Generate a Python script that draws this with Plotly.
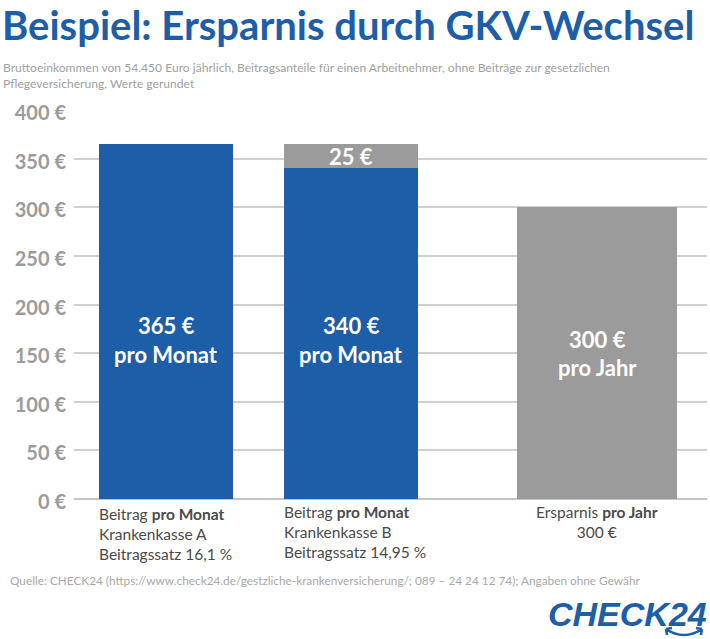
from typing import List, Dict
import plotly.graph_objects as go

BLUE = "#1c5ea8"
GREY = "#9b9b9b"
FONT = "Lato"
FIG_WIDTH = 710
FIG_HEIGHT = 639
MARGIN_LEFT = 74
MARGIN_RIGHT = 3
MARGIN_TOP = 110
MARGIN_BOTTOM = 140


def paper_x(pixel: float) -> float:
    return (pixel - MARGIN_LEFT) / (FIG_WIDTH - MARGIN_LEFT - MARGIN_RIGHT)


def paper_y(pixel: float) -> float:
    return (FIG_HEIGHT - MARGIN_BOTTOM - pixel) / (FIG_HEIGHT - MARGIN_TOP - MARGIN_BOTTOM)


def get_bars() -> List[Dict]:
    return [
        {"x": 92, "width": 134, "value": 340, "color": BLUE},
        {"x": 92, "width": 134, "value": 25, "color": BLUE},
        {"x": 277, "width": 134, "value": 340, "color": BLUE},
        {"x": 277, "width": 134, "value": 25, "color": GREY},
        {"x": 523, "width": 160, "value": 300, "color": GREY},
    ]


def get_bar_labels() -> List[Dict]:
    return [
        {"x": 92, "y": 178, "text": "<b>365 €</b>"},
        {"x": 92, "y": 149, "text": "<b>pro Monat</b>"},
        {"x": 277, "y": 178, "text": "<b>340 €</b>"},
        {"x": 277, "y": 149, "text": "<b>pro Monat</b>"},
        {"x": 277, "y": 352, "text": "<b>25 €</b>"},
        {"x": 523, "y": 164, "text": "<b>300 €</b>"},
        {"x": 523, "y": 135, "text": "<b>pro Jahr</b>"},
    ]


def get_texts() -> List[Dict]:
    return [
        {"x": 2, "y": 1, "text": "<b>Beispiel: Ersparnis durch GKV-Wechsel</b>", "size": 40,
         "color": BLUE, "align": "left", "anchor": "left"},
        {"x": 3, "y": 60, "text": "Bruttoeinkommen von 54.450 Euro jährlich, Beitragsanteile für einen Arbeitnehmer, "
         "ohne Beiträge zur gesetzlichen<br>Pflegeversicherung, Werte gerundet", "size": 12.1,
         "color": "#a0a0a0", "align": "left", "anchor": "left"},
        {"x": 99, "y": 505, "text": "Beitrag <b>pro Monat</b><br>Krankenkasse A<br>Beitragssatz 16,1 %", "size": 15.5,
         "color": "#4a4a4a", "align": "left", "anchor": "left"},
        {"x": 284, "y": 503, "text": "Beitrag <b>pro Monat</b><br>Krankenkasse B<br>Beitragssatz 14,95 %", "size": 15.5,
         "color": "#4a4a4a", "align": "left", "anchor": "left"},
        {"x": 597, "y": 503, "text": "Ersparnis <b>pro Jahr</b><br>300 €", "size": 15.5,
         "color": "#4a4a4a", "align": "center", "anchor": "center"},
        {"x": 10, "y": 573, "text": "Quelle: CHECK24 (https://www.check24.de/gestzliche-krankenversicherung/; "
         "089 – 24 24 12 74); Angaben ohne Gewähr", "size": 11.8,
         "color": "#a8a8a8", "align": "left", "anchor": "left"},
    ]


def create_savings_chart() -> go.Figure:
    traces = []
    for bar in get_bars():
        traces.append(
            go.Bar(
                x=[bar["x"]],
                y=[bar["value"]],
                width=bar["width"],
                marker=dict(color=bar["color"], line=dict(width=0)),
                showlegend=False,
            )
        )

    ticks = [0, 50, 100, 150, 200, 250, 300, 350, 400]
    fig = go.Figure(data=traces)
    fig.update_layout(
        width=FIG_WIDTH,
        height=FIG_HEIGHT,
        barmode="stack",
        margin=dict(l=MARGIN_LEFT, r=MARGIN_RIGHT, t=MARGIN_TOP, b=MARGIN_BOTTOM),
        plot_bgcolor="white",
        paper_bgcolor="white",
        xaxis=dict(range=[0, 633], visible=False, fixedrange=True),
        yaxis=dict(
            range=[0, 400],
            tickvals=ticks,
            ticktext=[f"{tick} €" for tick in ticks],
            ticklabelshift=3,
            ticklabelstandoff=7,
            tickfont=dict(family=FONT, size=20, color=GREY, weight="bold"),
            gridcolor="#d0d0d0",
            gridwidth=1.5,
            zeroline=True,
            zerolinecolor="#c4c4c4",
            zerolinewidth=1.5,
            showline=False,
            ticks="",
        ),
    )

    for label in get_bar_labels():
        fig.add_annotation(
            x=label["x"], y=label["y"], text=label["text"], showarrow=False,
            font=dict(family=FONT, size=22, color="white"),
            align="center", yanchor="middle",
        )

    for item in get_texts():
        fig.add_annotation(
            xref="paper", yref="paper", x=paper_x(item["x"]), y=paper_y(item["y"]),
            xanchor=item["anchor"], yanchor="top", text=item["text"], showarrow=False,
            align=item["align"], borderpad=0, borderwidth=0,
            font=dict(family=FONT, size=item["size"], color=item["color"]),
        )

    fig.add_annotation(
        xref="paper", yref="paper", x=paper_x(708), y=paper_y(594),
        xanchor="right", yanchor="top", text="<b><i>CHECK24</i></b>", showarrow=False,
        borderpad=0, font=dict(family="Liberation Sans", size=34, color=BLUE),
    )

    # arrow under the 24 of the logo
    fig.add_shape(
        type="path", xref="paper", yref="paper", line=dict(color=BLUE, width=2.5),
        path=(
            f"M {paper_x(666)} {paper_y(629)} Q {paper_x(684)} {paper_y(641)} {paper_x(702)} {paper_y(629)}"
            f" M {paper_x(666)} {paper_y(629)} L {paper_x(672)} {paper_y(628)}"
            f" M {paper_x(666)} {paper_y(629)} L {paper_x(667)} {paper_y(635)}"
            f" M {paper_x(702)} {paper_y(629)} L {paper_x(696)} {paper_y(628)}"
            f" M {paper_x(702)} {paper_y(629)} L {paper_x(701)} {paper_y(635)}"
        ),
    )
    return fig


fig = create_savings_chart()
# the page has a default margin of its own
fig.write_html(
    "out.html",
    config={"displayModeBar": False},
    post_script="document.body.style.margin = '0';",
)
